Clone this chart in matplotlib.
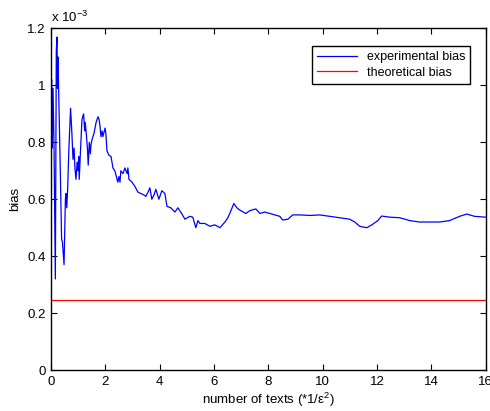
import matplotlib
matplotlib.use("Agg")
import matplotlib.pyplot as plt

plt.rcParams['font.family'] = ['Liberation Sans', 'DejaVu Sans']
plt.rcParams['mathtext.fontset'] = 'custom'
plt.rcParams['mathtext.rm'] = 'Liberation Sans'
plt.rcParams['mathtext.it'] = 'Liberation Sans:italic'

# number of texts (*1/eps^2)
texts = [0.0, 0.026, 0.048, 0.074, 0.11, 0.13, 0.16, 0.195, 0.22, 0.24, 0.26, 0.28,
         0.33, 0.39, 0.42, 0.48, 0.53, 0.55, 0.58, 0.61, 0.66, 0.72, 0.77, 0.81,
         0.85, 0.88, 0.92, 0.96, 0.99, 1.02, 1.04, 1.08, 1.14, 1.20, 1.24, 1.26,
         1.30, 1.34, 1.37, 1.41, 1.45, 1.47, 1.51, 1.58, 1.66, 1.73, 1.77, 1.80,
         1.84, 1.88, 1.91, 1.99, 2.02, 2.06, 2.13, 2.21, 2.28, 2.35, 2.43, 2.46,
         2.50, 2.54, 2.57, 2.65, 2.72, 2.80, 2.83, 2.87, 2.98, 3.09, 3.20, 3.31,
         3.42, 3.49, 3.57, 3.64, 3.71, 3.79, 3.86, 3.97, 4.08, 4.19, 4.27, 4.41,
         4.56, 4.67, 4.82, 4.93, 5.11, 5.22, 5.33, 5.41, 5.48, 5.66, 5.85, 6.03,
         6.22, 6.40, 6.51, 6.58, 6.73, 6.84, 6.95, 7.17, 7.32, 7.54, 7.69, 7.87,
         8.05, 8.24, 8.42, 8.53, 8.72, 8.90, 9.16, 9.53, 9.89, 10.26, 10.63, 10.99,
         11.18, 11.36, 11.62, 11.81, 12.03, 12.17, 12.47, 12.84, 13.20, 13.57, 13.94,
         14.31, 14.67, 15.04, 15.30, 15.59, 16.0]

# experimental bias (x 1e-3)
experimental_bias = [1.00, 1.02, 0.78, 0.99, 0.80, 0.62, 0.32, 1.12, 1.17, 0.99, 1.10, 0.99,
                     0.76, 0.46, 0.45, 0.37, 0.60, 0.62, 0.57, 0.63, 0.78, 0.92, 0.83, 0.74,
                     0.78, 0.71, 0.67, 0.73, 0.70, 0.75, 0.67, 0.76, 0.88, 0.90, 0.84, 0.87,
                     0.83, 0.78, 0.72, 0.80, 0.76, 0.79, 0.81, 0.83, 0.87, 0.89, 0.88, 0.86,
                     0.82, 0.84, 0.82, 0.85, 0.83, 0.77, 0.755, 0.75, 0.71, 0.70, 0.67, 0.66,
                     0.68, 0.66, 0.70, 0.69, 0.71, 0.69, 0.71, 0.67, 0.66, 0.645, 0.625, 0.62,
                     0.615, 0.61, 0.625, 0.64, 0.60, 0.615, 0.635, 0.60, 0.63, 0.62, 0.575, 0.57,
                     0.555, 0.57, 0.548, 0.53, 0.54, 0.537, 0.50, 0.525, 0.515, 0.515, 0.505, 0.51,
                     0.50, 0.52, 0.535, 0.55, 0.585, 0.57, 0.562, 0.55, 0.56, 0.566, 0.55, 0.555,
                     0.55, 0.545, 0.54, 0.527, 0.53, 0.545, 0.545, 0.543, 0.545, 0.54, 0.535, 0.53,
                     0.52, 0.505, 0.50, 0.51, 0.525, 0.541, 0.537, 0.535, 0.525, 0.52, 0.52,
                     0.52, 0.525, 0.54, 0.548, 0.54, 0.537]

theoretical_bias = 0.246  # x 1e-3

x_ticks = [0, 2, 4, 6, 8, 10, 12, 14, 16]
y_ticks = [0, 0.2, 0.4, 0.6, 0.8, 1.0, 1.2]
y_tick_labels = ['0', '0.2', '0.4', '0.6', '0.8', '1', '1.2']

fig = plt.figure(figsize=(4.9, 4.11), dpi=100)
ax = fig.add_axes([51/490, 41/411, 434.7/490, 341.5/411])

ax.plot(texts, experimental_bias, color='#0000ff', lw=0.9, label='experimental bias')
ax.axhline(theoretical_bias, color='#ff0000', lw=0.9, label='theoretical bias')

ax.set_xlim(0, 16)
ax.set_ylim(0, 1.2)
ax.set_xticks(x_ticks)
ax.set_yticks(y_ticks)
ax.set_yticklabels(y_tick_labels)
ax.tick_params(direction='in', top=True, right=True, length=4, width=0.8,
               labelsize=9.5, pad=4)
for s in ax.spines.values():
    s.set_linewidth(1.0)

ax.set_xlabel('number of texts (*1/ε$^{2}$)', fontsize=9.5, labelpad=2)
ax.set_ylabel('bias', fontsize=9.5, labelpad=4)
ax.text(0.0, 1.01, 'x 10$^{-3}$', transform=ax.transAxes, fontsize=9.5,
        ha='left', va='bottom')

leg = ax.legend(loc='upper right', bbox_to_anchor=(0.964, 0.949), borderaxespad=0,
                fancybox=False, framealpha=1, edgecolor='black', fontsize=9,
                handlelength=3.2, borderpad=0.4, labelspacing=0.3)
leg.get_frame().set_linewidth(1.0)

fig.savefig('out.png', dpi=100)
